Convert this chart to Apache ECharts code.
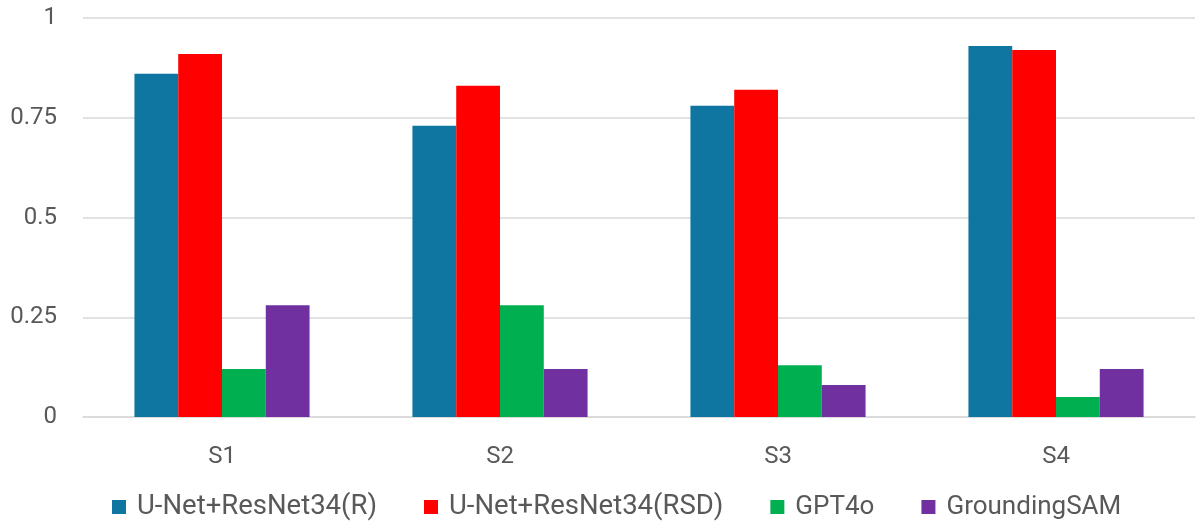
<!DOCTYPE html>
<html>
<head>
<meta charset="utf-8">
<script src="https://cdn.jsdelivr.net/npm/echarts@6/dist/echarts.min.js"></script>
<style>html,body{margin:0;padding:0;background:#fff;}#c{width:1204px;height:521px;}</style>
</head>
<body>
<div id="c"></div>
<script>
const categories = ['S1', 'S2', 'S3', 'S4'];
const seriesNames = ['U-Net+ResNet34(R)', 'U-Net+ResNet34(RSD)', 'GPT4o', 'GroundingSAM'];
const unetR = [0.86, 0.73, 0.78, 0.93];
const unetRSD = [0.91, 0.83, 0.82, 0.92];
const gpt4o = [0.12, 0.28, 0.13, 0.05];
const groundingSAM = [0.28, 0.12, 0.08, 0.12];
const yTicks = [0, 0.25, 0.5, 0.75, 1];
const colors = ['#0E76A0', '#FF0000', '#00B050', '#7030A0'];
const legendFontSizes = [27.5, 27.5, 26, 26];

const values = [unetR, unetRSD, gpt4o, groundingSAM];
const FONT = 'Roboto, "Liberation Sans", Arial, sans-serif';
const chart = echarts.init(document.getElementById('c'), null, {renderer: 'canvas'});
chart.setOption({
  animation: false,
  textStyle: {fontFamily: FONT},
  grid: {left: 83, right: 9, top: 18, bottom: 104, containLabel: false},
  legend: {
    top: 493,
    left: 112,
    padding: 0,
    itemWidth: 14, itemHeight: 14,
    itemGap: 47,
    icon: 'rect',
    textStyle: {fontSize: 26, color: '#595959', fontFamily: FONT, padding: [0, 0, 0, 6]},
    data: seriesNames.map((n, i) => ({name: n, textStyle: {fontSize: legendFontSizes[i]}}))
  },
  xAxis: {
    type: 'category',
    data: categories,
    axisLine: {show: true, lineStyle: {color: '#D9D9D9', width: 1.5}},
    axisTick: {show: false},
    axisLabel: {fontSize: 24, color: '#595959', margin: 28}
  },
  yAxis: {
    type: 'value',
    min: 0, max: 1, interval: 0.25,
    axisLine: {show: false},
    axisTick: {show: false},
    splitLine: {lineStyle: {color: '#D9D9D9', width: 1.5}},
    axisLabel: {fontSize: 24, color: '#595959', margin: 26,
      formatter: v => yTicks.includes(v) ? String(v) : ''}
  },
  series: seriesNames.map((n, i) => ({
    name: n,
    type: 'bar',
    data: values[i],
    barGap: '0%',
    barCategoryGap: '37%',
    itemStyle: {color: colors[i]}
  }))
});
</script>
</body>
</html>
